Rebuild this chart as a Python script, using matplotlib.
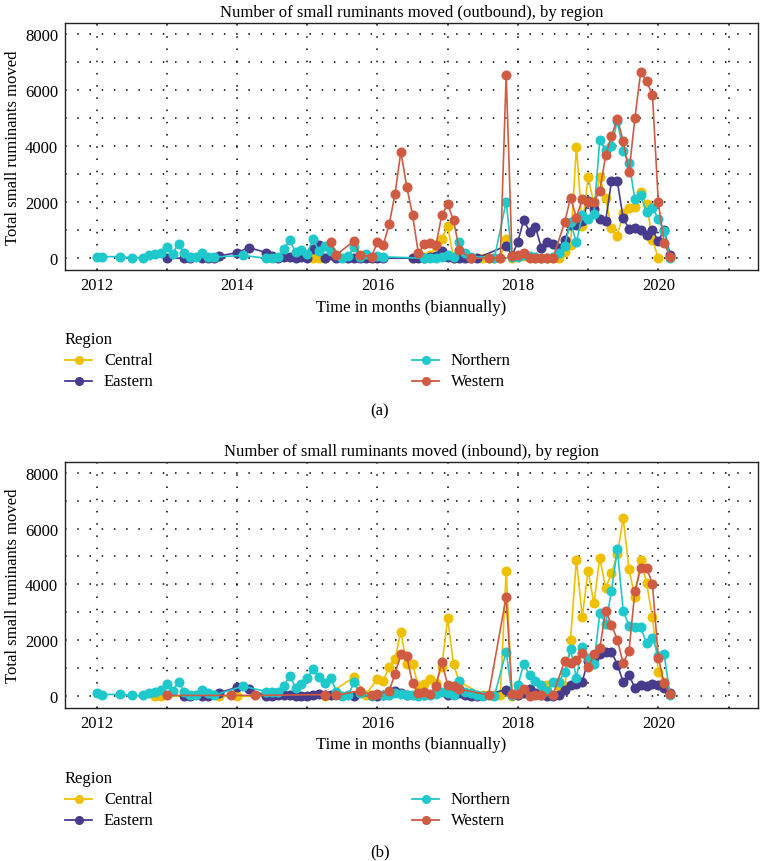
import numpy as np
import matplotlib
matplotlib.use("Agg")
import matplotlib.pyplot as plt
from matplotlib.lines import Line2D

plt.rcParams['font.family'] = ['Liberation Serif', 'DejaVu Serif']

# months are counted from January 2012 (0 = Jan 2012)
regions = ['Central', 'Eastern', 'Northern', 'Western']
colors = {'Central': '#EFC000', 'Eastern': '#473B8C', 'Northern': '#1FC8CA', 'Western': '#CF5B42'}

# ---- outbound ----
out_central_m = [37, 38, 39, 54, 56, 57, 58, 59, 60, 61, 66, 67, 68, 69, 70, 71, 72, 73, 74, 75, 76, 77, 78,
                 79, 80, 81, 82, 83, 84, 85, 86, 87, 88, 89, 90, 91, 92, 93, 94, 95, 96]
out_central_v = [0, 0, 0, 0, 50, 100, 440, 700, 1150, 0, 0, 0, 0, 20, 700, 0, 30, 80, 60, 20, 0, 0, 0,
                 0, 230, 460, 3980, 1160, 2880, 1930, 2880, 2130, 1080, 800, 1610, 1790, 1810, 2350, 1930, 660, 0]

out_eastern_m = [12, 15, 16, 18, 19, 20, 21, 24, 26, 29, 30, 31, 32, 33, 34, 35, 36, 37, 38, 39, 40, 41, 43,
                 44, 45, 46, 47, 48, 49, 54, 55, 56, 57, 58, 59, 60, 61, 62, 63, 64, 65, 70, 71, 72, 73, 74,
                 75, 76, 77, 78, 79, 80, 81, 82, 83, 84, 85, 86, 87, 88, 89, 90, 91, 92, 93, 94, 95, 96, 97, 98]
out_eastern_v = [0, 0, 0, 0, 0, 0, 80, 200, 380, 200, 80, 0, 30, 60, 0, 30, 20, 320, 460, 0, 100, 0, 0,
                 0, 0, 0, 0, 0, 0, 0, 0, 0, 30, 80, 260, 50, 20, 0, 0, 0, 0, 440, 80, 590, 1360, 950,
                 1110, 380, 590, 520, 380, 650, 1180, 1190, 1320, 2040, 1740, 1390, 1330, 2740, 2740, 1420,
                 1050, 1070, 1000, 830, 1000, 610, 1020, 130]

out_northern_m = [0, 1, 4, 6, 8, 9, 10, 11, 12, 13, 14, 15, 16, 17, 18, 19, 20, 25, 29, 30, 31, 32, 33, 34,
                  35, 36, 37, 38, 39, 40, 42, 43, 44, 45, 46, 48, 49, 56, 57, 58, 59, 60, 61, 62, 63, 64,
                  68, 70, 71, 72, 73, 74, 75, 76, 77, 78, 79, 80, 81, 82, 83, 84, 85, 86, 87, 88, 89, 90,
                  91, 92, 93, 94, 95, 96, 97, 98]
out_northern_v = [60, 50, 60, 20, 20, 120, 150, 200, 400, 160, 520, 170, 50, 50, 200, 50, 40, 100, 0, 25,
                  60, 320, 640, 220, 280, 150, 700, 240, 420, 250, 0, 80, 400, 30, 140, 80, 50, 0, 20, 20,
                  50, 120, 60, 560, 200, 60, 20, 2020, 50, 60, 100, 80, 30, 20, 0, 60, 170, 440, 1290, 560,
                  1530, 1410, 1580, 4210, 3850, 4000, 4890, 3820, 3400, 2100, 2240, 1660, 1800, 1390, 970, 0]

out_western_m = [40, 41, 44, 45, 47, 48, 49, 50, 51, 52, 53, 54, 55, 56, 57, 58, 59, 60, 61, 62, 64, 67, 69,
                 70, 71, 72, 73, 74, 75, 76, 77, 78, 80, 81, 82, 83, 84, 85, 86, 87, 88, 89, 90, 91, 92,
                 93, 94, 95, 96, 97, 98]
out_western_v = [560, 120, 620, 110, 60, 580, 460, 1210, 2280, 3800, 2550, 1540, 170, 500, 530, 470, 1540,
                 1920, 1350, 300, 0, 0, 0, 6540, 80, 130, 200, 20, 20, 10, 0, 10, 1280, 2160, 1450, 2100,
                 2010, 2010, 2400, 3660, 4350, 4970, 4170, 3060, 4990, 6640, 6300, 5820, 2000, 540, 60]

# ---- inbound ----
in_central_m = [10, 11, 21, 24, 39, 44, 46, 48, 49, 50, 51, 52, 53, 54, 55, 56, 57, 58, 59, 60, 61, 62, 66,
                68, 69, 70, 71, 72, 74, 76, 77, 79, 80, 81, 82, 83, 84, 85, 86, 87, 88, 89, 90, 91, 92,
                93, 94, 95, 96, 97, 98]
in_central_v = [0, 0, 0, 0, 0, 680, 60, 620, 550, 1060, 1330, 2310, 1140, 1150, 350, 430, 620, 460, 1060,
                2790, 1140, 520, 50, 50, 30, 4480, 0, 50, 100, 100, 400, 360, 350, 2010, 4890, 2850, 4480,
                3320, 4960, 3860, 4400, 5080, 6370, 4540, 3540, 4870, 4040, 2830, 880, 500, 80]

in_eastern_m = [15, 16, 18, 19, 21, 24, 26, 29, 30, 31, 32, 33, 34, 35, 36, 37, 38, 39, 40, 44, 48, 49, 50,
                51, 52, 53, 56, 60, 61, 62, 63, 64, 65, 70, 71, 72, 73, 74, 75, 76, 77, 78, 79, 80, 81,
                82, 83, 84, 85, 86, 87, 88, 89, 90, 91, 92, 93, 94, 95, 96, 97, 98]
in_eastern_v = [20, 0, 20, 20, 130, 320, 250, 20, 20, 30, 30, 30, 20, 20, 20, 60, 70, 30, 30, 20, 20, 30,
                120, 190, 100, 50, 30, 50, 80, 100, 30, 20, 0, 230, 50, 30, 100, 260, 100, 50, 0, 0, 50,
                230, 400, 430, 520, 1270, 1380, 1520, 1600, 1600, 1130, 510, 760, 290, 420, 350, 430, 400,
                290, 110]

in_northern_m = [0, 1, 4, 6, 8, 9, 10, 11, 12, 13, 14, 15, 16, 17, 18, 19, 20, 25, 29, 30, 31, 32, 33, 34,
                 35, 36, 37, 38, 39, 40, 41, 42, 43, 44, 45, 47, 49, 50, 51, 52, 53, 54, 55, 56, 57, 58,
                 59, 60, 61, 62, 63, 64, 65, 66, 68, 70, 71, 72, 73, 74, 75, 76, 77, 78, 79, 80, 81, 82,
                 83, 84, 85, 86, 87, 88, 89, 90, 91, 92, 93, 94, 95, 96, 97, 98]
in_northern_v = [100, 60, 70, 30, 30, 120, 170, 240, 440, 200, 520, 140, 50, 50, 220, 100, 30, 360, 170,
                 170, 170, 360, 740, 300, 450, 650, 980, 700, 480, 650, 170, 0, 30, 500, 100, 0, 50, 50,
                 100, 80, 50, 30, 20, 30, 50, 80, 170, 100, 50, 550, 170, 100, 30, 0, 20, 1600, 50, 400,
                 1150, 760, 560, 400, 200, 520, 520, 870, 1680, 670, 1750, 1360, 1150, 2980, 2600, 3760,
                 5270, 3060, 2520, 2490, 2460, 1900, 2100, 1450, 1500, 50]

in_western_m = [12, 23, 27, 39, 41, 45, 47, 48, 50, 51, 52, 53, 54, 55, 56, 57, 58, 59, 60, 61, 62, 67, 70,
                71, 72, 73, 74, 75, 76, 78, 80, 81, 82, 83, 84, 85, 86, 87, 88, 89, 90, 91, 92, 93, 94,
                95, 96, 97, 98]
in_western_v = [30, 30, 30, 60, 30, 200, 50, 80, 190, 800, 1500, 1440, 460, 110, 140, 80, 370, 1240, 400,
                370, 250, 50, 3560, 80, 80, 260, 20, 60, 30, 50, 1270, 1200, 1290, 1540, 1040, 1500, 1710,
                3060, 2560, 2020, 1180, 1630, 3760, 4590, 4590, 4020, 1380, 460, 80]

outbound = {'Central': (out_central_m, out_central_v), 'Eastern': (out_eastern_m, out_eastern_v),
            'Northern': (out_northern_m, out_northern_v), 'Western': (out_western_m, out_western_v)}
inbound = {'Central': (in_central_m, in_central_v), 'Eastern': (in_eastern_m, in_eastern_v),
           'Northern': (in_northern_m, in_northern_v), 'Western': (in_western_m, in_western_v)}

W, H = 761, 862
fig = plt.figure(figsize=(W / 100, H / 100), dpi=100)

FS = 12


def draw_panel(top_px, bot_px, data, title):
    ax = fig.add_axes([65 / W, 1 - bot_px / H, (758 - 65) / W, (bot_px - top_px) / H])
    for r in regions:
        m, v = data[r]
        x = 2012 + np.array(m) / 12.0
        ax.plot(x, v, color=colors[r], lw=1.2, marker='o', ms=6.2, zorder=3)
    ax.set_xlim(2011.55, 2021.42)
    ax.set_ylim(-420, 8380)
    ax.set_xticks([2012, 2014, 2016, 2018, 2020])
    ax.set_xticks(np.arange(2012, 2022), minor=True)
    ax.set_yticks([0, 2000, 4000, 6000, 8000])
    ax.set_yticks(np.arange(0, 9000, 1000), minor=True)
    ax.grid(True, which='both', color='black', linestyle=(0, (1, 7)), lw=1.1)
    ax.tick_params(which='both', length=0, labelsize=FS, pad=5)
    for s in ax.spines.values():
        s.set_linewidth(1.0)
        s.set_color('#222222')
    ax.set_title(title, fontsize=FS, pad=5)
    ax.set_xlabel('Time in months (biannually)', fontsize=FS, labelpad=4)
    ax.set_ylabel('Total small ruminants moved', fontsize=FS, labelpad=3)
    return ax


def draw_legend(y_title, y1, y2, tag, y_tag):
    fig.text(65 / W, 1 - y_title / H, 'Region', fontsize=FS, va='center', ha='left')
    pos = [('Central', 65, y1), ('Eastern', 65, y2), ('Northern', 412, y1), ('Western', 412, y2)]
    for name, x0, yy in pos:
        yf = 1 - yy / H
        fig.add_artist(Line2D([x0 / W, (x0 + 27) / W], [yf, yf], color=colors[name], lw=1.3,
                              transform=fig.transFigure))
        fig.add_artist(Line2D([(x0 + 13.5) / W], [yf], color=colors[name], marker='o', ms=5.5,
                              transform=fig.transFigure))
        fig.text((x0 + 39) / W, yf, name, fontsize=FS, va='center', ha='left')
    fig.text(380 / W, 1 - y_tag / H, tag, fontsize=FS, va='center', ha='center')


draw_panel(24, 271, outbound, 'Number of small ruminants moved (outbound), by region')
draw_legend(340, 361, 382, '(a)', 411)
draw_panel(463, 709, inbound, 'Number of small ruminants moved (inbound), by region')
draw_legend(779, 800, 821, '(b)', 852)

fig.savefig('out.png', dpi=100)
